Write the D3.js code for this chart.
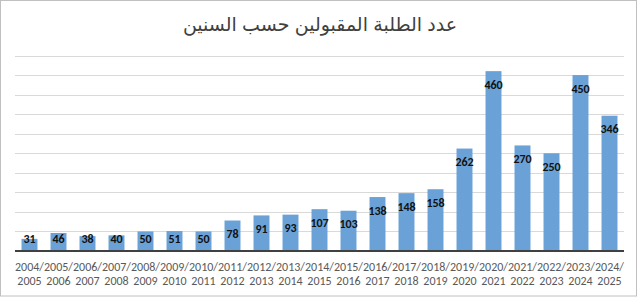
<!DOCTYPE html>
<html>
<head>
<meta charset="utf-8">
<script src="https://cdn.jsdelivr.net/npm/d3@7"></script>
<style>
  html, body { margin: 0; padding: 0; background: #fff; }
  svg { display: block; }
</style>
</head>
<body>
<svg id="chart" width="640" height="297"></svg>
<script>
// data
const startYears = [2004, 2005, 2006, 2007, 2008, 2009, 2010, 2011, 2012, 2013, 2014,
                    2015, 2016, 2017, 2018, 2019, 2020, 2021, 2022, 2023, 2024];
const endYears = [2005, 2006, 2007, 2008, 2009, 2010, 2011, 2012, 2013, 2014, 2015,
                  2016, 2017, 2018, 2019, 2020, 2021, 2022, 2023, 2024, 2025];
const students = [31, 46, 38, 40, 50, 51, 50, 78, 91, 93, 107,
                  103, 138, 148, 158, 262, 460, 270, 250, 450, 346];
const yTicks = [0, 50, 100, 150, 200, 250, 300, 350, 400, 450, 500];
const title = "عدد الطلبة المقبولين حسب السنين";

const svg = d3.select("#chart");
const width = 640, height = 297;

// chart frame
svg.append("rect")
    .attr("x", 0.5).attr("y", 0.5)
    .attr("width", width - 4).attr("height", height - 1.5)
    .attr("fill", "#fff")
    .attr("stroke", "#c0c0c0");

// plot area
const plotLeft = 15, plotRight = 624, plotTop = 55.5, plotBottom = 251;

const x = d3.scaleBand()
    .domain(startYears.map((d, i) => d + "/" + endYears[i]))
    .range([plotLeft, plotRight])
    .paddingInner(0.45)
    .paddingOuter(0.225);

const y = d3.scaleLinear()
    .domain([0, 500])
    .range([plotBottom, plotTop]);

// gridlines
svg.append("g")
    .selectAll("line")
    .data(yTicks.slice(1))
    .join("line")
    .attr("x1", plotLeft).attr("x2", plotRight)
    .attr("y1", d => Math.round(y(d)) + 0.5)
    .attr("y2", d => Math.round(y(d)) + 0.5)
    .attr("stroke", "#d9d9d9")
    .attr("stroke-width", 1);

// bars
const cats = x.domain();
svg.append("g")
    .selectAll("rect")
    .data(students)
    .join("rect")
    .attr("x", (d, i) => x(cats[i]))
    .attr("y", d => y(d))
    .attr("width", x.bandwidth())
    .attr("height", d => plotBottom - y(d))
    .attr("fill", "#6aa2d8");

// baseline
svg.append("line")
    .attr("x1", plotLeft).attr("x2", plotRight)
    .attr("y1", plotBottom).attr("y2", plotBottom)
    .attr("stroke", "#404040")
    .attr("stroke-width", 2);

// value labels, inside end (kept above the axis for short bars)
svg.append("g")
    .selectAll("text")
    .data(students)
    .join("text")
    .attr("x", (d, i) => x(cats[i]) + x.bandwidth() / 2)
    .attr("y", d => Math.min(y(d) + 17.5, plotBottom - 8.5))
    .attr("text-anchor", "middle")
    .attr("font-family", "Carlito, 'Liberation Sans', Arial, sans-serif")
    .attr("font-weight", "bold")
    .attr("font-size", "12px")
    .attr("fill", "#111")
    .text(d => d);

// category labels on two lines
const xLabels = svg.append("g")
    .selectAll("text")
    .data(cats)
    .join("text")
    .attr("text-anchor", "middle")
    .attr("font-family", "Carlito, 'Liberation Sans', Arial, sans-serif")
    .attr("font-size", "12px")
    .attr("fill", "#595959");

xLabels.append("tspan")
    .attr("x", d => x(d) + x.bandwidth() / 2)
    .attr("y", 270.5)
    .text((d, i) => startYears[i] + "/");

xLabels.append("tspan")
    .attr("x", d => x(d) + x.bandwidth() / 2)
    .attr("y", 285)
    .text((d, i) => endYears[i]);

// title
svg.append("text")
    .attr("x", 320)
    .attr("y", 31)
    .attr("text-anchor", "middle")
    .attr("direction", "rtl")
    .attr("font-family", "Arial, 'DejaVu Sans', sans-serif")
    .attr("font-size", "19px")
    .attr("fill", "#404040")
    .text(title);
</script>
</body>
</html>
